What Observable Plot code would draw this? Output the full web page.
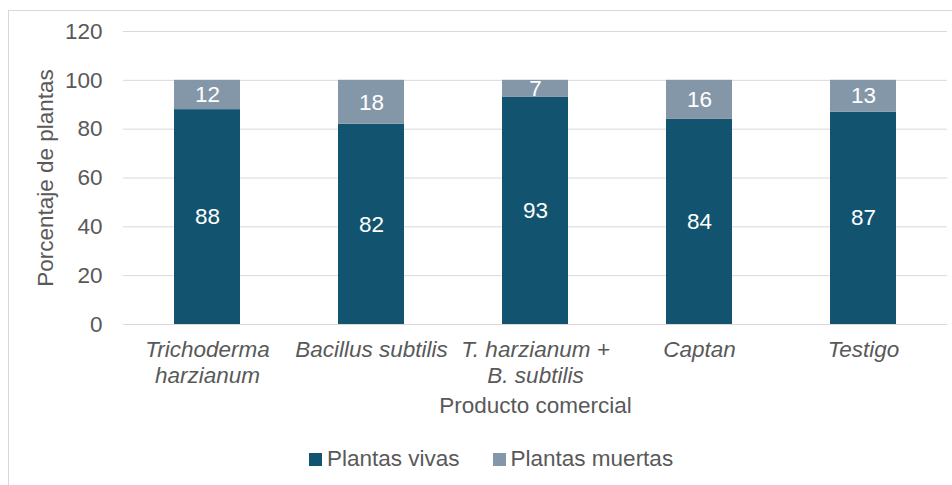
<!DOCTYPE html>
<html>
<head>
<meta charset="utf-8">
<script src="https://cdn.jsdelivr.net/npm/d3@7"></script>
<script src="https://cdn.jsdelivr.net/npm/@observablehq/plot@0.6"></script>
<style>
  html, body { margin: 0; padding: 0; background: #fff; overflow: hidden; width: 952px; height: 485px; }
  #frame { position: absolute; left: 8px; top: 10px; width: 1000px; height: 1000px; border: 1px solid #d9d9d9; box-sizing: border-box; }
  #chart { position: absolute; left: 0; top: 0; }
  #legend { position: absolute; left: 309px; top: 446px; display: flex; align-items: center; font-family: "Liberation Sans", Arial, sans-serif; font-size: 22.5px; color: #595959; }
  .item { display: flex; align-items: center; margin-right: 33px; }
  .sw { width: 13px; height: 13px; margin-right: 5px; }
</style>
</head>
<body>
<div id="frame"></div>
<div id="chart"></div>
<div id="legend"></div>
<script>
const products = ["Trichoderma\nharzianum", "Bacillus subtilis", "T. harzianum +\nB. subtilis", "Captan", "Testigo"];
const series = ["Plantas vivas", "Plantas muertas"];
const vivas = [88, 82, 93, 84, 87];
const muertas = [12, 18, 7, 16, 13];
const yTicks = [0, 20, 40, 60, 80, 100, 120];
const colors = ["#12536F", "#8497A8"];
const xTitle = "Producto comercial";
const yTitle = "Porcentaje de plantas";

const data = products.flatMap((p, i) => [
  {product: p, serie: series[0], value: vivas[i]},
  {product: p, serie: series[1], value: muertas[i]}
]);

const font = "'Liberation Sans', Arial, sans-serif";

const chart = Plot.plot({
  width: 952,
  height: 445,
  marginLeft: 123,
  marginRight: 5,
  marginTop: 31,
  marginBottom: 121,
  style: {fontFamily: font, fontSize: "22.5px", color: "#595959", background: "transparent", overflow: "visible"},
  x: {domain: products, paddingInner: 0.6, paddingOuter: 0.3, label: null},
  y: {domain: [0, 120], label: null},
  color: {domain: series, range: colors},
  marks: [
    Plot.gridY(yTicks, {stroke: "#d9d9d9", strokeOpacity: 1, strokeWidth: 1}),
    Plot.barY(data, Plot.stackY({x: "product", y: "value", fill: "serie", z: "serie"})),
    Plot.text(data, Plot.stackY({x: "product", y: "value", z: "serie", text: d => String(d.value), fill: "white", fontSize: 22.5})),
    Plot.axisY(yTicks, {tickSize: 0, tickPadding: 21, label: null, fill: "#595959", fontSize: 22.5}),
    Plot.axisX({tickSize: 0, tickPadding: 15, label: null, fontStyle: "italic", lineHeight: 1.12, fill: "#595959", fontSize: 22.5}),
    Plot.text([xTitle], {text: d => d, frameAnchor: "bottom", dy: 88, fill: "#595959", fontSize: 22.5}),
    Plot.text([yTitle], {text: d => d, frameAnchor: "left", textAnchor: "middle", rotate: -90, dx: -78, fill: "#595959", fontSize: 22.5})
  ]
});
document.getElementById("chart").appendChild(chart);

const legend = document.getElementById("legend");
series.forEach((s, i) => {
  const it = document.createElement("div");
  it.className = "item";
  const sw = document.createElement("div");
  sw.className = "sw";
  sw.style.background = colors[i];
  const lb = document.createElement("span");
  lb.textContent = s;
  it.appendChild(sw);
  it.appendChild(lb);
  legend.appendChild(it);
});
</script>
</body>
</html>
